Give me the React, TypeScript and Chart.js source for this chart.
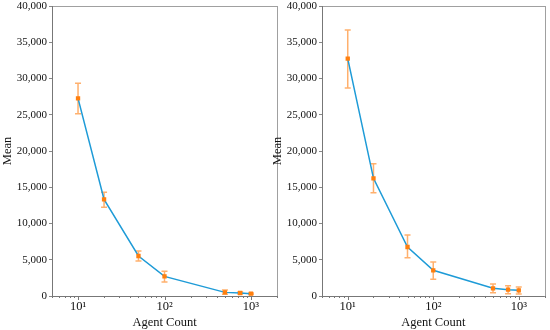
import React, { useEffect, useRef } from "react";
import { Chart, registerables } from "chart.js";

Chart.register(...registerables);

const agentCounts = [10, 20, 50, 100, 500, 750, 1000];
const xTickValues = [10, 100, 1000];
const xTickLabels = ["10\u00B9", "10\u00B2", "10\u00B3"];
const yTickStep = 5000;

const leftMean = [27260, 13330, 5520, 2710, 500, 410, 320];
const leftLow = [25150, 12230, 4830, 1930, 230, 260, 220];
const leftHigh = [29330, 14300, 6200, 3400, 830, 560, 420];

const rightMean = [32740, 16230, 6760, 3540, 1060, 870, 780];
const rightLow = [28700, 14250, 5290, 2300, 460, 320, 280];
const rightHigh = [36700, 18250, 8410, 4690, 1660, 1430, 1240];

const FONT = "'Liberation Serif', 'Times New Roman', serif";
const TEXT = "#111";

function makePlugin(low: number[], high: number[]) {
  return {
    id: "errAndFrame",
    beforeDatasetsDraw(chart: any) {
      const ctx = chart.ctx;
      const xs = chart.scales.x;
      const ys = chart.scales.y;
      ctx.save();
      ctx.strokeStyle = "rgba(255,150,60,0.75)";
      ctx.lineWidth = 1.5;
      agentCounts.forEach((xv, i) => {
        const px = xs.getPixelForValue(xv);
        const pl = ys.getPixelForValue(low[i]);
        const ph = ys.getPixelForValue(high[i]);
        ctx.beginPath();
        ctx.moveTo(px, pl);
        ctx.lineTo(px, ph);
        ctx.moveTo(px - 3, pl);
        ctx.lineTo(px + 3, pl);
        ctx.moveTo(px - 3, ph);
        ctx.lineTo(px + 3, ph);
        ctx.stroke();
      });
      ctx.restore();
    },
    afterDraw(chart: any) {
      const ctx = chart.ctx;
      const a = chart.chartArea;
      const xs = chart.scales.x;
      ctx.save();
      ctx.strokeStyle = "#a0a0a0";
      ctx.lineWidth = 1;
      ctx.strokeRect(Math.round(a.left) + 0.5, Math.round(a.top) + 0.5, Math.round(a.right - a.left), Math.round(a.bottom - a.top));
      ctx.strokeStyle = "#777";
      ctx.beginPath();
      ctx.moveTo(Math.round(a.left) + 0.5, a.top);
      ctx.lineTo(Math.round(a.left) + 0.5, a.bottom);
      ctx.moveTo(a.left, Math.round(a.bottom) + 0.5);
      ctx.lineTo(a.right, Math.round(a.bottom) + 0.5);
      ctx.stroke();
      const minors: number[] = [];
      for (let d = 1; d <= 1000; d *= 10) {
        for (let m = 1; m <= 9; m++) {
          const v = m * d;
          if (v >= 5 && v <= 2000) minors.push(v);
        }
      }
      minors.forEach((v) => {
        const px = Math.round(xs.getPixelForValue(v)) + 0.5;
        const major = xTickValues.includes(v);
        ctx.beginPath();
        ctx.moveTo(px, a.bottom);
        ctx.lineTo(px, a.bottom + (major ? 4 : 2));
        ctx.stroke();
      });
      ctx.restore();
    },
  };
}

function Panel(props: { mean: number[]; low: number[]; high: number[]; left: number; width: number; yWidth: number; padRight: number; titlePad: number }) {
  const ref = useRef<HTMLCanvasElement>(null);
  useEffect(() => {
    const chart = new Chart(ref.current!, {
      type: "line",
      data: {
        datasets: [
          {
            data: agentCounts.map((x, i) => ({ x, y: props.mean[i] })),
            borderColor: "#1e9bd7",
            borderWidth: 1.5,
            pointBackgroundColor: "#ff7f0e",
            pointBorderColor: "#ff7f0e",
            pointRadius: 2,
            pointStyle: "rect",
            tension: 0,
          },
        ],
      },
      options: {
        responsive: false,
        animation: false,
        layout: { padding: { top: 6, right: props.padRight, left: 0, bottom: 0 } },
        plugins: { legend: { display: false }, tooltip: { enabled: false } },
        scales: {
          x: {
            type: "logarithmic",
            min: 5,
            max: 2000,
            grid: { display: false, drawTicks: false },
            border: { display: false },
            afterBuildTicks: (s: any) => {
              s.ticks = xTickValues.map((v) => ({ value: v }));
            },
            afterFit: (s: any) => {
              s.height = 34;
              s.paddingLeft = 0;
              s.paddingRight = 0;
            },
            ticks: {
              autoSkip: false,
              maxRotation: 0,
              padding: 3,
              color: TEXT,
              font: { family: FONT, size: 12.5 },
              callback: (v: any) => {
                const i = xTickValues.indexOf(Number(v));
                return i >= 0 ? xTickLabels[i] : "";
              },
            },
            title: { display: true, text: "Agent Count", color: TEXT, font: { family: FONT, size: 12.5 }, padding: 0 },
          },
          y: {
            min: 0,
            max: 40000,
            grid: { display: true, drawOnChartArea: false, drawTicks: true, tickLength: 3, color: "#888" },
            border: { display: false },
            afterFit: (s: any) => {
              s.width = props.yWidth;
              s.paddingTop = 0;
              s.paddingBottom = 0;
            },
            ticks: {
              stepSize: yTickStep,
              padding: 2,
              color: TEXT,
              font: { family: FONT, size: 11 },
              callback: (v: any) => Number(v).toLocaleString("en-US"),
            },
            title: { display: true, text: "Mean", color: TEXT, font: { family: FONT, size: 12.5 }, padding: { top: props.titlePad, bottom: 0 } },
          },
        },
      },
      plugins: [makePlugin(props.low, props.high)],
    } as any);
    return () => chart.destroy();
  }, []);
  return (
    <canvas
      ref={ref}
      width={props.width}
      height={330}
      style={{ position: "absolute", left: props.left, top: 0, width: props.width, height: 330 }}
    />
  );
}

export default function App() {
  return (
    <div style={{ position: "fixed", left: 0, top: 0, width: 550, height: 330, background: "#fff" }}>
      <Panel mean={leftMean} low={leftLow} high={leftHigh} left={0} width={285} yWidth={52} padRight={8} titlePad={0} />
      <Panel mean={rightMean} low={rightLow} high={rightHigh} left={268} width={282} yWidth={54} padRight={3} titlePad={2} />
    </div>
  );
}
